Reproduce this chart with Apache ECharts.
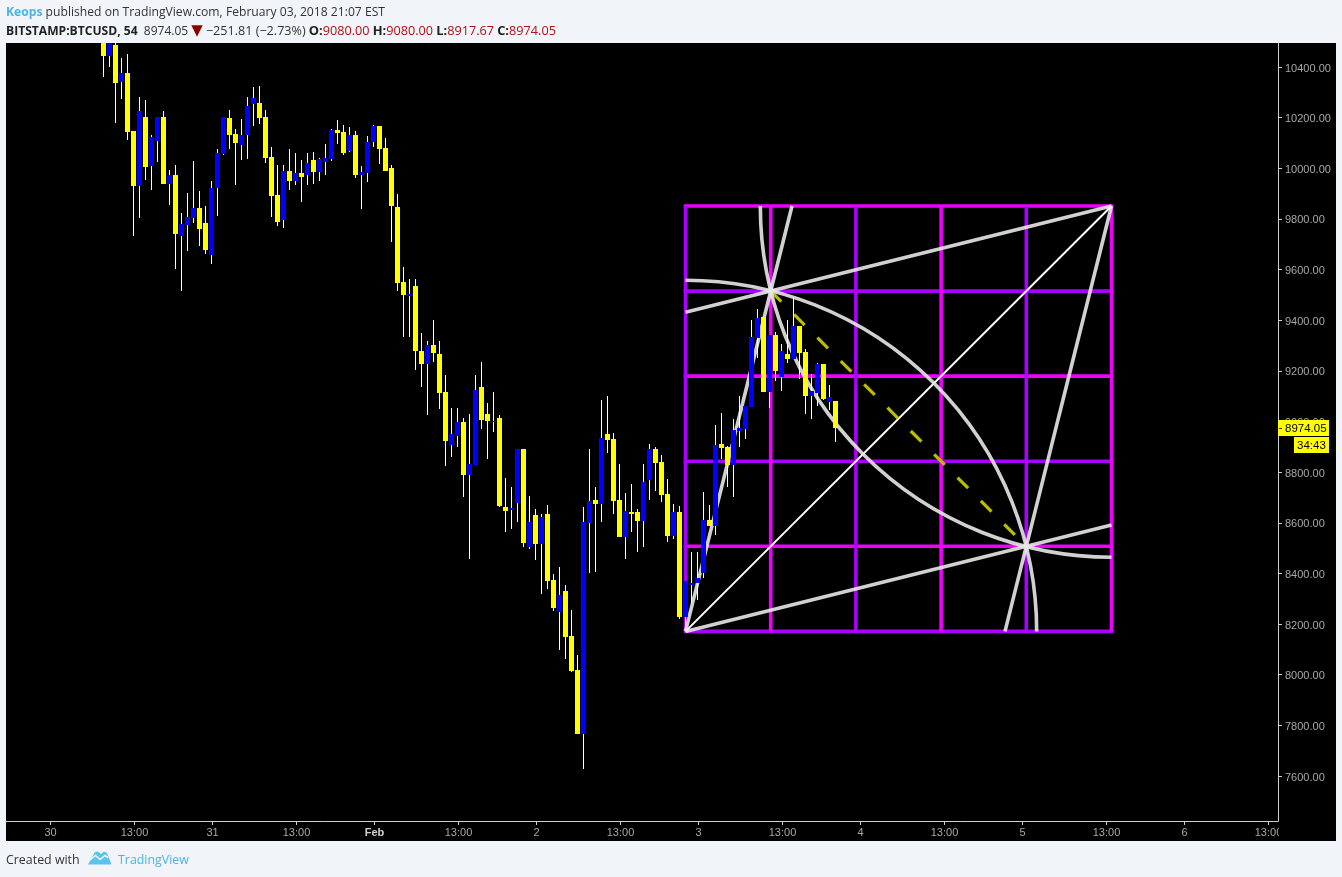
<!DOCTYPE html>
<html>
<head>
<meta charset="utf-8">
<title>BITSTAMP:BTCUSD, 54</title>
<style>html,body{margin:0;padding:0;background:#f1f4f8}#chart{width:1342px;height:877px}</style>
<script src="https://cdn.jsdelivr.net/npm/echarts@6/dist/echarts.min.js"></script>
</head>
<body>
<div id="chart"></div>
<script>
// Bar numbers are counted in 54-minute bars from the left edge of the pane.
const firstBar = 16;
const opens = [10494,10445,10488,10342,10376,10147,9931,10203,10010,10109,10203,9939,9973,9734,9776,9805,9843,9784,9659,9923,10058,10199,10135,10093,10133,10255,10258,10203,10045,9895,9797,9989,9950,9981,9975,10033,9987,10026,10037,10151,10143,10068,10131,9973,9983,10105,10167,10080,10001,9847,9551,9497,9535,9279,9228,9302,9267,9117,8909,8944,8998,8790,8828,9136,9030,9000,9014,8662,8651,8680,8891,8506,8631,8518,8635,8374,8249,8331,8153,8019,7767,8599,8690,8676,8951,8931,8690,8545,8643,8643,8607,8770,8891,8840,8714,8548,8643,8229,8354,8361,8402,8611,8589,8911,8899,8828,8963,8971,9057,9331,9413,9118,9342,9176,9267,9247,9377,9275,9101,9113,9227,9077,9080];
const closes = [10445,10494,10338,10376,10145,9931,10226,10006,10124,10203,9939,9973,9742,9780,9808,9843,9762,9679,9922,10060,10203,10133,10101,10131,10246,10278,10200,10042,9892,9789,9989,9951,9981,9967,10021,9987,10037,10041,10151,10139,10062,10131,9975,9985,10104,10167,10077,9991,9852,9548,9501,9504,9280,9228,9302,9272,9114,8924,8951,8998,8790,8832,9125,9007,9000,9002,8668,8647,8659,8891,8522,8603,8518,8623,8372,8265,8315,8150,8016,7767,8603,8686,8674,8935,8927,8687,8545,8647,8635,8607,8761,8891,8836,8710,8548,8643,8229,8370,8362,8382,8611,8589,8907,8897,8828,8966,8974,9061,9334,9409,9118,9342,9199,9279,9247,9377,9271,9101,9121,9227,9089,9097,8974.05];
const highs = [10494,10494,10494,10436,10451,10147,10282,10270,10131,10203,10226,9993,10013,9823,9902,10029,9910,9851,9950,10076,10203,10230,10155,10195,10282,10321,10325,10230,10084,10013,10013,10076,10060,10033,10060,10064,10041,10096,10155,10191,10171,10163,10147,10009,10128,10171,10167,10120,10013,9898,9610,9563,9563,9350,9318,9401,9318,9184,9053,9053,9014,9030,9184,9235,9073,9117,9026,8777,8741,8891,8891,8706,8655,8635,8670,8398,8426,8354,8256,8078,8662,8892,8741,9085,9101,8955,8832,8718,8753,8655,8832,8911,8899,8868,8773,8674,8666,8370,8485,8485,8722,8670,8986,9034,8903,9010,9101,9061,9401,9444,9413,9342,9354,9306,9401,9492,9377,9286,9188,9231,9227,9144,9080];
const lows = [10362,10401,10180,10274,10113,9734,9805,9955,9916,10026,9939,9856,9604,9517,9675,9785,9694,9663,9623,9813,10054,10077,9935,10034,10038,10168,10176,10022,9809,9773,9766,9916,9935,9868,9935,9939,9951,9975,10030,10097,10054,10064,9963,9840,9946,10085,10018,9991,9710,9517,9335,9335,9205,9138,9027,9235,9051,8826,8861,8901,8703,8458,8828,8972,8853,8960,8664,8565,8577,8603,8506,8498,8453,8319,8339,8253,8098,8062,8011,7767,7629,8403,8407,8603,8876,8635,8545,8455,8564,8485,8505,8690,8726,8682,8524,8536,8218,8177,8282,8295,8380,8589,8553,8852,8743,8703,8899,8931,9057,9250,9118,9053,9160,9121,9231,9247,9168,9030,9010,9061,9085,9046,8917.67];

const priceTicks = [7600,7800,8000,8200,8400,8600,8800,9000,9200,9400,9600,9800,10000,10200,10400];
const timeTickBars = [7.17,21.17,34.17,48.17,61.17,75.17,88.17,102.17,115.17,129.17,142.17,156.17,169.17,183.17,196.17,210.17];
const timeTickLabels = ['30','13:00','31','13:00','Feb','13:00','2','13:00','3','13:00','4','13:00','5','13:00','6','13:00'];

const lastClose = 8974.05;
const countdown = '34:43';

// Gann box drawn on the chart
const gannBars = [113,127.2,141.4,155.6,169.8,184];
const gannPrices = [8171,8507,8843,9179,9515,9851];
const gannBarColors = ['#aa00ff','#ee00ff','#aa00ff','#ee00ff','#aa00ff','#ee00ff'];
const gannPriceColors = ['#aa00ff','#ee00ff','#aa00ff','#ee00ff','#aa00ff','#ee00ff'];
const gannFans = [
  [[113,8171],[130.75,9851]],
  [[113,8171],[184,8591]],
  [[184,9851],[166.25,8171]],
  [[184,9851],[113,9431]]
];
const gannDiagonal = [[113,8171],[184,9851]];
const gannDashed = [[127.2,9515],[169.8,8507]];
const gannArcs = [[184,9851,58.53],[113,8171,58.53]];
const gannArcAngles = [[Math.PI/2,Math.PI],[-Math.PI/2,0]];

const candleData = opens.map((o,i)=>[firstBar+i,o,closes[i],lows[i],highs[i]]);

const UP='#0000ff', DOWN='#ffff00', WICK='#ffffff';
const lineSeries=(data,color,width,extra)=>({type:'line',data,symbol:'none',silent:true,z:2,animation:false,
  lineStyle:Object.assign({color,width,cap:'butt'},extra||{})});

const series=[];
gannPrices.forEach((p,i)=>series.push(lineSeries([[gannBars[0]-0.3,p],[gannBars[5]+0.3,p]],gannPriceColors[i],3.6)));
gannBars.forEach((b,i)=>series.push(lineSeries([[b,gannPrices[0]],[b,gannPrices[5]]],gannBarColors[i],3.6)));
gannFans.forEach(f=>series.push(lineSeries(f,'rgba(232,232,232,0.9)',3.6)));
series.push(lineSeries(gannDiagonal,'#ffffff',2));
series.push(lineSeries(gannDashed,'#bcbc00',3.2,{type:[15,18]}));
series.push({type:'custom',silent:true,z:3,animation:false,data:gannArcs,encode:{x:0,y:1},
  renderItem(params,api){
    const c=api.coord([api.value(0),api.value(1)]);
    const r=api.size([api.value(2),0])[0];
    const a=gannArcAngles[params.dataIndex];
    return {type:'arc',shape:{cx:c[0],cy:c[1],r:r,startAngle:a[0],endAngle:a[1],clockwise:true},
      style:{fill:null,stroke:'rgba(232,232,232,0.9)',lineWidth:3.6}};
  }});
series.push({type:'custom',name:'BTCUSD',silent:true,z:5,animation:false,data:candleData,encode:{x:0,y:[1,2,3,4]},
  renderItem(params,api){
    const x=Math.floor(api.coord([api.value(0),0])[0]);
    const yO=api.coord([0,api.value(1)])[1], yC=api.coord([0,api.value(2)])[1];
    const yL=Math.round(api.coord([0,api.value(3)])[1]), yH=Math.round(api.coord([0,api.value(4)])[1]);
    const top=Math.round(Math.min(yO,yC)), bot=Math.round(Math.max(yO,yC));
    const color=api.value(2)>=api.value(1)?UP:DOWN;
    return {type:'group',children:[
      {type:'rect',shape:{x:x,y:yH,width:1,height:Math.max(yL-yH,1)},style:{fill:WICK}},
      {type:'rect',shape:{x:x-2,y:top,width:5,height:Math.max(bot-top,1)},style:{fill:color}}
    ]};
  }});
series.push({type:'custom',silent:true,z:20,animation:false,data:[[211.75,lastClose]],encode:{x:0,y:1},
  renderItem(params,api){
    const p=api.coord([api.value(0),api.value(1)]);
    const x=Math.round(p[0]), y=Math.round(p[1]);
    const font={fontFamily:'Liberation Sans, Arial, sans-serif',fontSize:11.5,fill:'#000000',verticalAlign:'middle',align:'left'};
    return {type:'group',children:[
      {type:'rect',shape:{x:x,y:y-8,width:51,height:16},style:{fill:'#ffff00'}},
      {type:'rect',shape:{x:x+1,y:y,width:3,height:1},style:{fill:'#333300'}},
      {type:'text',style:Object.assign({text:api.value(1).toFixed(2),x:x+7,y:y+1},font)},
      {type:'rect',shape:{x:x+16,y:y+9,width:35,height:16},style:{fill:'#ffff00'}},
      {type:'text',style:Object.assign({text:countdown,x:x+19,y:y+18},font)}
    ]};
  }});

const chart=echarts.init(document.getElementById('chart'),null,{renderer:'canvas',width:1342,height:877});
const HEAD='"Open Sans", sans-serif';
chart.setOption({
  animation:false,
  backgroundColor:'#f1f4f8',
  title:[
    {left:6,top:7,padding:0,text:'{k|Keops} published on TradingView.com, February 03, 2018 21:07 EST',
     textStyle:{fontFamily:HEAD,fontSize:12.15,fontWeight:'normal',color:'#333',rich:{k:{fontFamily:HEAD,fontSize:12.15,fontWeight:'bold',color:'#4cb3e6'}}}},
    {left:6,top:24,padding:0,
     text:'{b|BITSTAMP:BTCUSD, 54}  8974.05 {t|▼} {n|−251.81 (−2.73%)} {b2|O:}{r|9080.00} {b2|H:}{r|9080.00} {b2|L:}{r|8917.67} {b2|C:}{r|8974.05}',
     textStyle:{fontFamily:HEAD,fontSize:12,fontWeight:'normal',color:'#333',rich:{
       b:{fontFamily:HEAD,fontSize:12.1,fontWeight:'bold',color:'#222'},
       b2:{fontFamily:HEAD,fontSize:12.9,fontWeight:'bold',color:'#222'},
       n:{fontFamily:HEAD,fontSize:12.6,color:'#333'},
       r:{fontFamily:HEAD,fontSize:12.7,color:'#b01010'},
       t:{fontFamily:'DejaVu Sans',fontSize:15,color:'#8b0000'}}}}
  ],
  grid:{left:6,top:43,width:1272,height:778,containLabel:false},
  xAxis:{type:'value',min:-0.25,max:211.75,splitLine:{show:false},
    axisLine:{show:true,onZero:false,lineStyle:{color:'#cfcfcf',width:1}},
    axisTick:{show:true,length:4,customValues:timeTickBars,lineStyle:{color:'#cfcfcf'}},
    axisLabel:{show:true,margin:6,hideOverlap:false,customValues:timeTickBars,
      color:'#a8a8a8',fontFamily:'Liberation Sans, Arial, sans-serif',fontSize:11,
      formatter:v=>{const i=timeTickBars.indexOf(v);const s=timeTickLabels[i];return s==='Feb'?'{b|Feb}':s;},
      rich:{b:{fontWeight:'bold',color:'#d0d0d0',fontFamily:'Liberation Sans, Arial, sans-serif',fontSize:11}}}},
  yAxis:{type:'value',position:'right',min:7422.2,max:10494.8,scale:true,splitLine:{show:false},
    axisLine:{show:true,onZero:false,lineStyle:{color:'#cfcfcf',width:1}},
    axisTick:{show:true,length:4,customValues:priceTicks,lineStyle:{color:'#cfcfcf'}},
    axisLabel:{show:true,margin:7,customValues:priceTicks,hideOverlap:false,
      color:'#a8a8a8',fontFamily:'Liberation Sans, Arial, sans-serif',fontSize:11,
      formatter:v=>'{v|'+Number(v).toFixed(2)+'}',
      rich:{v:{color:'#a8a8a8',fontFamily:'Liberation Sans, Arial, sans-serif',fontSize:11,padding:[3,0,0,0]}}}},
  tooltip:{show:false},
  series,
  graphic:{elements:[
    {type:'rect',z:-100,silent:true,shape:{x:6,y:43,width:1330,height:798},style:{fill:'#000000'}},
    {type:'rect',z:100,silent:true,shape:{x:1279,y:822,width:57,height:19},style:{fill:'#000000'}},
    {type:'text',z:100,silent:true,x:6,y:860,style:{text:'Created with',fill:'#333',fontFamily:HEAD,fontSize:12.4,verticalAlign:'middle'}},
    {type:'polygon',z:100,silent:true,shape:{points:[[88,864.5],[95,852],[98,851.5],[101,854],[104,851.5],[107,853],[111.5,864.5]]},style:{fill:'#5cc3ec'}},
    {type:'polyline',z:101,silent:true,shape:{points:[[90,860],[95.5,855.5],[100,859.5],[105,855.5],[108,857.5]]},style:{stroke:'#f1f4f8',lineWidth:1.6,fill:null}},
    {type:'text',z:100,silent:true,x:118,y:860,style:{text:'TradingView',fill:'#4cb3e6',fontFamily:HEAD,fontSize:12.4,verticalAlign:'middle'}}
  ]}
});
</script>
</body>
</html>
